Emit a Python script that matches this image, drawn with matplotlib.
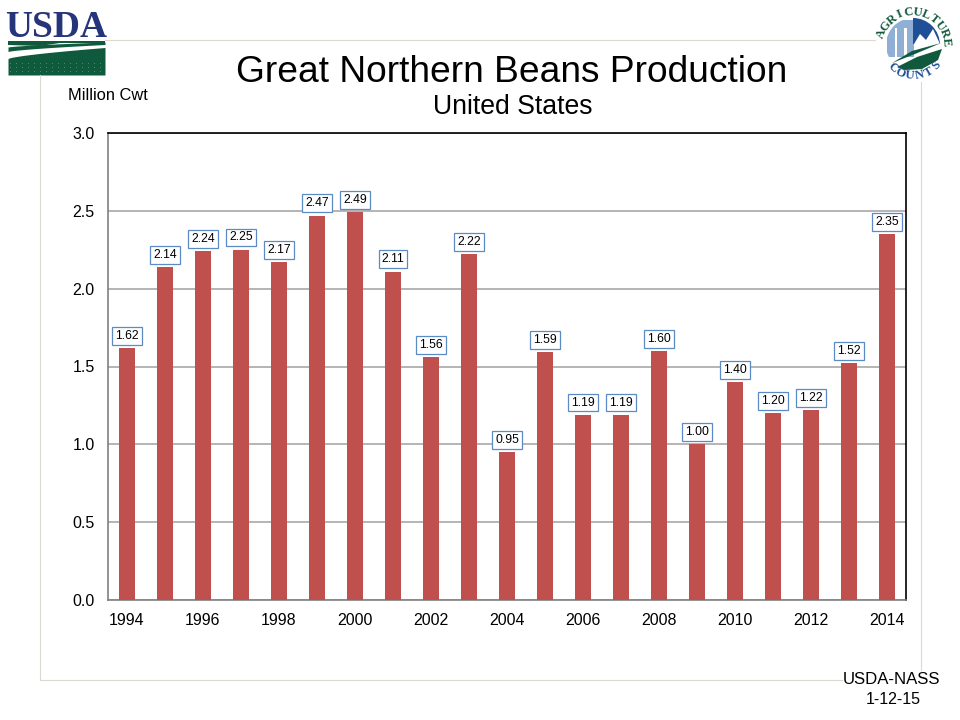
#!/usr/bin/env python3

import matplotlib
matplotlib.use("Agg")
import matplotlib.pyplot as plt
import numpy as np
from matplotlib.patches import Circle, Polygon, Rectangle

years = list(range(1994, 2015))
production = [1.62, 2.14, 2.24, 2.25, 2.17, 2.47, 2.49, 2.11, 1.56, 2.22, 0.95,
              1.59, 1.19, 1.19, 1.60, 1.00, 1.40, 1.20, 1.22, 1.52, 2.35]
y_ticks = [0.0, 0.5, 1.0, 1.5, 2.0, 2.5, 3.0]
x_tick_years = list(range(1994, 2015, 2))

W, H = 960, 720
NAVY = "#26357a"
GREEN = "#0f5a3c"
BLUE = "#1f4f96"
LIGHT_BLUE = "#8fb0d4"

plt.rcParams["font.family"] = ["Liberation Sans", "DejaVu Sans"]

fig = plt.figure(figsize=(W / 100, H / 100), dpi=100, facecolor="white")

# overlay in pixel coordinates for the slide decoration
deco = fig.add_axes([0, 0, 1, 1])
deco.set_xlim(0, W)
deco.set_ylim(H, 0)
deco.axis("off")

# slide frame
frame = "#dcd8d2"
deco.plot([105, 875], [40, 40], color=frame, lw=0.8)
deco.plot([40, 40], [75, 680], color=frame, lw=0.8)
deco.plot([40, 842], [680, 680], color=frame, lw=0.8)
deco.plot([921, 921], [82, 670], color=frame, lw=0.8)

# USDA logo
deco.text(56.5, 37, "USDA", family="Liberation Serif", fontsize=27, color=NAVY,
          ha="center", va="baseline", fontweight="bold")
xs = np.linspace(8, 105, 40)
t = (xs - 8) / 97
deco.fill_between(xs, 58.5 - 11 * t ** 0.7, 75, color=GREEN, lw=0)
deco.fill_between(xs, 51.5 - 7 * t ** 0.7, 47 - 5 * t ** 0.7, color=GREEN, lw=0)
deco.add_patch(Polygon([(8, 41), (105, 41), (105, 43), (60, 43), (40, 46), (8, 45)],
                       color=GREEN, lw=0))
dot_x, dot_y = np.meshgrid(np.arange(10, 105, 6), np.arange(63, 75, 4))
deco.scatter(dot_x.ravel(), dot_y.ravel(), s=0.5, color="#4f8f5c", lw=0)

# Agriculture Counts logo
cx, cy = 913, 45
clip = Circle((cx, cy), 27, transform=deco.transData)
city = [Rectangle((887, 20), 27, 37, color=LIGHT_BLUE, lw=0),
        Rectangle((913, 17), 27, 27, color=BLUE, lw=0)]
for bx, bw in [(895, 2), (904, 3)]:
    city.append(Rectangle((bx, 28), bw, 30, color="white", lw=0))
city.append(Polygon([(914, 44), (920, 34), (926, 40), (933, 29), (940, 44)],
                    color="white", lw=0))
for patch in city:
    deco.add_patch(patch)
    patch.set_clip_path(clip)
deco.add_patch(Polygon([(892, 63), (912, 51), (941, 43), (915, 54)],
                       color=GREEN, lw=0))
deco.add_patch(Polygon([(897, 67), (917, 57), (942, 49), (938, 60), (922, 69), (905, 70)],
                       color=GREEN, lw=0))

word = "AGRICULTURE"
for letter, ang in zip(word, np.linspace(160, 5, len(word))):
    a = np.radians(ang)
    deco.text(cx + 33 * np.cos(a), cy - 33 * np.sin(a), letter, color=GREEN,
              family="Liberation Serif", fontsize=9, fontweight="bold",
              rotation=ang - 90, ha="center", va="center")
word = "COUNTS"
for letter, ang in zip(word, np.linspace(-132, -42, len(word))):
    a = np.radians(ang)
    deco.text(cx + 31 * np.cos(a), cy - 31 * np.sin(a), letter, color=BLUE,
              family="Liberation Serif", fontsize=9, fontweight="bold",
              rotation=ang + 90, ha="center", va="center")

# titles and notes
fig.text(512 / W, 1 - 73 / H, "Great Northern Beans Production", fontsize=26.7,
         ha="center", va="center", color="black")
fig.text(513 / W, 1 - 107 / H, "United States", fontsize=19.2,
         ha="center", va="center", color="black")
fig.text(68 / W, 1 - 96 / H, "Million Cwt", fontsize=11.8, ha="left", va="center")
fig.text(891 / W, 1 - 679 / H, "USDA-NASS", fontsize=12.1, ha="center", va="center")
fig.text(893 / W, 1 - 699 / H, "1-12-15", fontsize=11.5, ha="center", va="center")

# chart
left, right, top, bottom = 108, 906, 133, 600
ax = fig.add_axes([left / W, 1 - bottom / H, (right - left) / W, (bottom - top) / H])
ax.patch.set_alpha(0)
ax.bar(years, production, width=0.4, color="#c0504d", zorder=3)
ax.set_xlim(1993.5, 2014.5)
ax.set_ylim(0, 3)
ax.set_yticks(y_ticks, [f"{v:.1f}" for v in y_ticks], fontsize=11.5)
ax.set_xticks(x_tick_years, [str(y) for y in x_tick_years], fontsize=11.5)
ax.tick_params(axis="both", length=0)
ax.tick_params(axis="x", pad=9.5)
ax.tick_params(axis="y", pad=9.5)
ax.grid(axis="y", color="#b4b4b4", lw=1.4, zorder=1)
ax.set_axisbelow(True)
ax.spines["left"].set_color("#808080")
ax.spines["bottom"].set_color("#808080")
ax.spines["top"].set_color("black")
ax.spines["right"].set_color("black")
for spine in ax.spines.values():
    spine.set_linewidth(1.2)

for year, value in zip(years, production):
    ax.annotate(f"{value:.2f}", (year, value), xytext=(0, 4.5),
                textcoords="offset points", ha="center", va="bottom", fontsize=8.8,
                zorder=5,
                bbox=dict(boxstyle="square,pad=0.24", fc="white", ec="#5b8ac4", lw=0.9))

fig.savefig("out.png", dpi=100)
